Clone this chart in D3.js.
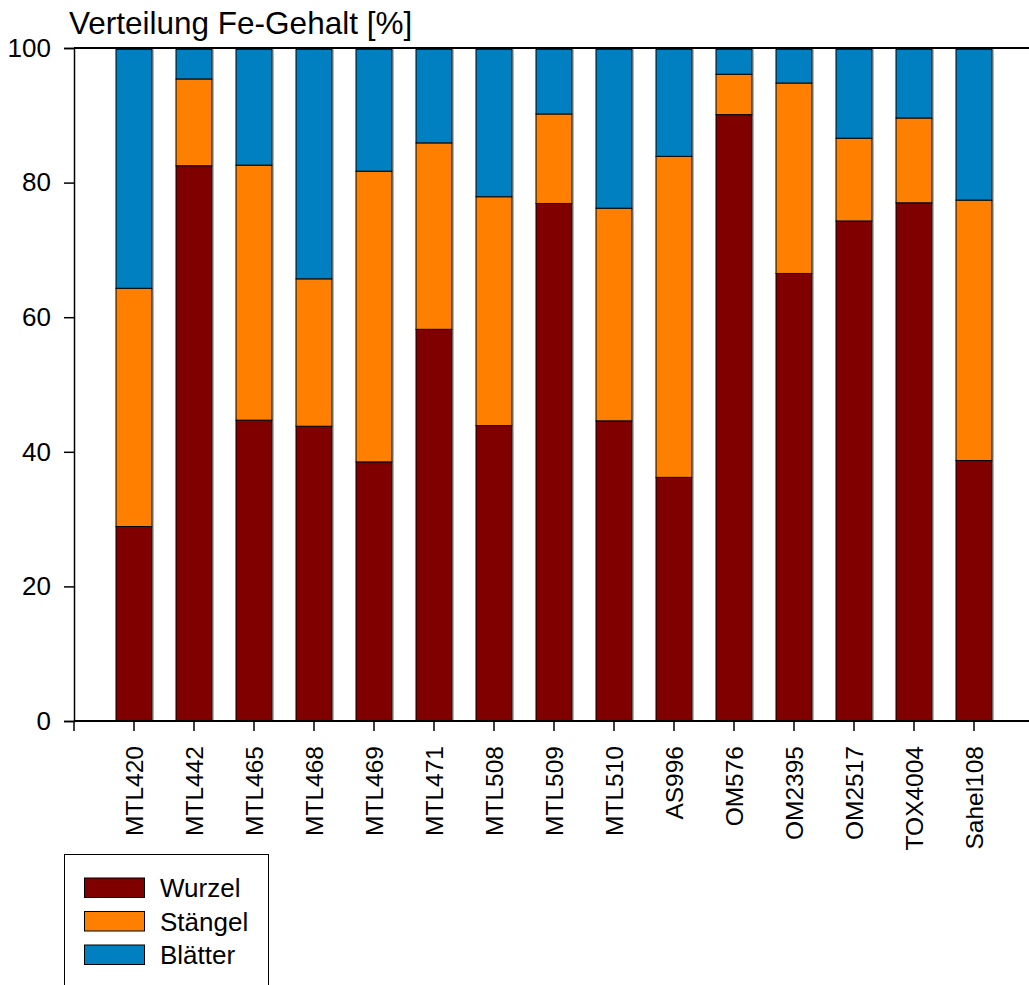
<!DOCTYPE html>
<html>
<head>
<meta charset="utf-8">
<script src="https://cdn.jsdelivr.net/npm/d3@7/dist/d3.min.js"></script>
<style>
  html, body { margin: 0; padding: 0; background: #fff; }
  svg { display: block; }
  text { font-family: "Liberation Sans", Arial, sans-serif; fill: #000; }
</style>
</head>
<body>
<svg id="chart" width="1029" height="985"></svg>
<script>
// Genotypes (x categories)
const categories = ["MTL420", "MTL442", "MTL465", "MTL468", "MTL469", "MTL471", "MTL508",
  "MTL509", "MTL510", "AS996", "OM576", "OM2395", "OM2517", "TOX4004", "Sahel108"];

// Share of Fe content per plant organ [%]
const wurzel  = [28.9, 82.5, 44.7, 43.8, 38.5, 58.2, 43.9, 76.9, 44.6, 36.2, 90.1, 66.5, 74.3, 77.0, 38.7];
const staengel = [35.4, 12.9, 37.9, 21.9, 43.2, 27.7, 34.0, 13.3, 31.6, 47.7, 6.0, 28.3, 12.3, 12.6, 38.7];
const blaetter = [35.7, 4.6, 17.4, 34.3, 18.3, 14.1, 22.1, 9.8, 23.8, 16.1, 3.9, 5.2, 13.4, 10.4, 22.6];

const seriesNames = ["Wurzel", "Stängel", "Blätter"];
const seriesColors = ["#800000", "#ff8000", "#0080c0"];
const yTicks = [0, 20, 40, 60, 80, 100];
const title = "Verteilung Fe-Gehalt [%]";

const svg = d3.select("#chart");

const plotLeft = 74, plotTop = 48, plotBottom = 721, plotRightEdge = 1029;

const x = d3.scaleBand().domain(categories).range([104, 1004])
  .paddingInner(0.4).paddingOuter(0.2);
const y = d3.scaleLinear().domain([0, 100]).range([plotBottom, plotTop]);

// Stack the three organs
const rows = categories.map((c, i) => ({ cat: c, Wurzel: wurzel[i], "Stängel": staengel[i], "Blätter": blaetter[i] }));
const stacked = d3.stack().keys(seriesNames)(rows);

const barsG = svg.append("g");
stacked.forEach((layer, li) => {
  const g = barsG.append("g");
  // faint grey edge to the right of every segment
  g.selectAll("rect.shade").data(layer).join("rect")
    .attr("class", "shade")
    .attr("x", d => x(d.data.cat) + x.bandwidth() + 0.5)
    .attr("y", d => y(Math.min(d[1], 99.8)))
    .attr("width", 1.2)
    .attr("height", d => y(d[0]) - y(Math.min(d[1], 99.8)))
    .attr("fill", "#9a9a9a");
  g.selectAll("rect.seg").data(layer).join("rect")
    .attr("class", "seg")
    .attr("x", d => x(d.data.cat))
    .attr("y", d => y(Math.min(d[1], 99.8)))
    .attr("width", x.bandwidth())
    .attr("height", d => y(d[0]) - y(Math.min(d[1], 99.8)))
    .attr("fill", seriesColors[li])
    .attr("stroke", "#000")
    .attr("stroke-width", 1);
});

// Frame line at 100 and base line at 0
svg.append("line").attr("x1", plotLeft).attr("x2", plotRightEdge)
  .attr("y1", y(100)).attr("y2", y(100)).attr("stroke", "#000").attr("stroke-width", 2);
svg.append("line").attr("x1", plotLeft).attr("x2", plotRightEdge)
  .attr("y1", y(0)).attr("y2", y(0)).attr("stroke", "#000").attr("stroke-width", 2);

// Y axis
const yAxis = svg.append("g").attr("transform", `translate(${plotLeft},0)`)
  .call(d3.axisLeft(y).tickValues(yTicks).tickSize(10).tickPadding(13).tickFormat(d3.format("d")));
yAxis.select(".domain").attr("stroke-width", 1.5);
yAxis.selectAll(".tick line").attr("stroke-width", 1.5);
yAxis.selectAll("text").style("font-size", "26px").attr("font-family", "Liberation Sans, Arial, sans-serif")
  .attr("fill", "#000");

// X axis (category ticks) plus the origin tick
const xAxis = svg.append("g").attr("transform", `translate(0,${plotBottom})`)
  .call(d3.axisBottom(x).tickSize(10).tickSizeOuter(0));
xAxis.select(".domain").remove();
xAxis.selectAll(".tick line").attr("stroke-width", 1.5);
xAxis.selectAll(".tick text")
  .style("font-size", "24.5px")
  .attr("font-family", "Liberation Sans, Arial, sans-serif")
  .attr("fill", "#000")
  .attr("transform", "rotate(-90)")
  .attr("x", -25)
  .attr("y", 0)
  .attr("dy", "0.35em")
  .attr("text-anchor", "end");
svg.append("line").attr("x1", plotLeft).attr("x2", plotLeft)
  .attr("y1", plotBottom).attr("y2", plotBottom + 10).attr("stroke", "#000").attr("stroke-width", 1.5);

// Title
svg.append("text").attr("x", 69).attr("y", 34)
  .style("font-size", "31.5px")
  .text(title);

// Legend
const legend = svg.append("g");
legend.append("rect").attr("x", 64.5).attr("y", 854.5).attr("width", 204).attr("height", 200)
  .attr("fill", "#fff").attr("stroke", "#000").attr("stroke-width", 1);
seriesNames.forEach((name, i) => {
  const yy = 878 + i * 33.5;
  legend.append("rect").attr("x", 84.5).attr("y", yy).attr("width", 60).attr("height", 19.5)
    .attr("fill", seriesColors[i]).attr("stroke", "#000").attr("stroke-width", 1);
  legend.append("text").attr("x", 160).attr("y", yy + 19)
    .style("font-size", "26px").text(name);
});
</script>
</body>
</html>
